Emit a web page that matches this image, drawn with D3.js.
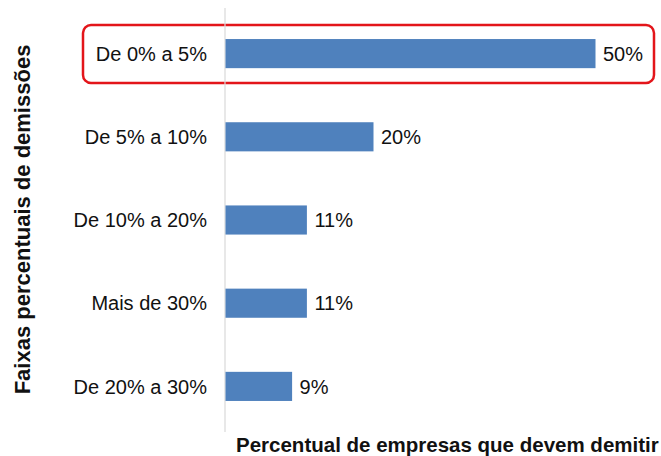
<!DOCTYPE html>
<html>
<head>
<meta charset="utf-8">
<script src="https://cdn.jsdelivr.net/npm/d3@7"></script>
<style>
body { margin: 0; background: #fff; }
text { font-family: "Liberation Sans", Arial, sans-serif; fill: #111; }
</style>
</head>
<body>
<div id="chart"></div>
<script>
// faixas de demissao, de cima para baixo
var categories = ['De 0% a 5%', 'De 5% a 10%', 'De 10% a 20%', 'Mais de 30%', 'De 20% a 30%']
var values = [50, 20, 11, 11, 9]
var valueLabels = ['50%', '20%', '11%', '11%', '9%']
var yTitle = 'Faixas percentuais de demissões'
var xTitle = 'Percentual de empresas que devem demitir'

var width = 661, height = 456

var svg = d3.select('#chart').append('svg')
	.attr('width', width)
	.attr('height', height)

var x = d3.scaleLinear()
	.domain([0, 50])
	.range([225, 595])

var y = d3.scaleBand()
	.domain(categories)
	.range([12, 428])
	.paddingInner(0.65)
	.paddingOuter(0.325)

// destaque da primeira faixa
svg.append('rect')
	.attr('x', 83)
	.attr('y', y(categories[0]) - 14)
	.attr('width', 571)
	.attr('height', 58)
	.attr('rx', 8)
	.attr('fill', 'none')
	.attr('stroke', '#e3151a')
	.attr('stroke-width', 2.5)

// eixo vertical
svg.append('line')
	.attr('x1', x(0)).attr('x2', x(0))
	.attr('y1', 8).attr('y2', 432)
	.attr('stroke', '#d9d9d9')
	.attr('stroke-width', 1.2)

var data = categories.map(function(c, i) {
	return { cat: c, value: values[i], label: valueLabels[i] }
})

svg.selectAll('.bar')
	.data(data)
	.enter().append('rect')
	.attr('class', 'bar')
	.attr('x', x(0) + 0.5)
	.attr('y', function(d) { return y(d.cat) })
	.attr('width', function(d) { return x(d.value) - x(0) })
	.attr('height', y.bandwidth())
	.attr('fill', '#4f81bd')

svg.selectAll('.val')
	.data(data)
	.enter().append('text')
	.attr('class', 'val')
	.attr('x', function(d) { return x(d.value) + 8 })
	.attr('y', function(d) { return y(d.cat) + y.bandwidth() / 2 })
	.attr('dy', '0.36em')
	.style('font-size', '20px')
	.text(function(d) { return d.label })

svg.selectAll('.cat')
	.data(data)
	.enter().append('text')
	.attr('class', 'cat')
	.attr('x', 207)
	.attr('y', function(d) { return y(d.cat) + y.bandwidth() / 2 })
	.attr('dy', '0.36em')
	.attr('text-anchor', 'end')
	.style('font-size', '20px')
	.text(function(d) { return d.cat })

svg.append('text')
	.attr('transform', 'translate(30,219.5) rotate(-90)')
	.attr('text-anchor', 'middle')
	.style('font-size', '22px')
	.style('font-weight', 'bold')
	.text(yTitle)

svg.append('text')
	.attr('x', 236)
	.attr('y', 451.5)
	.style('font-size', '20.5px')
	.style('font-weight', 'bold')
	.text(xTitle)
</script>
</body>
</html>
